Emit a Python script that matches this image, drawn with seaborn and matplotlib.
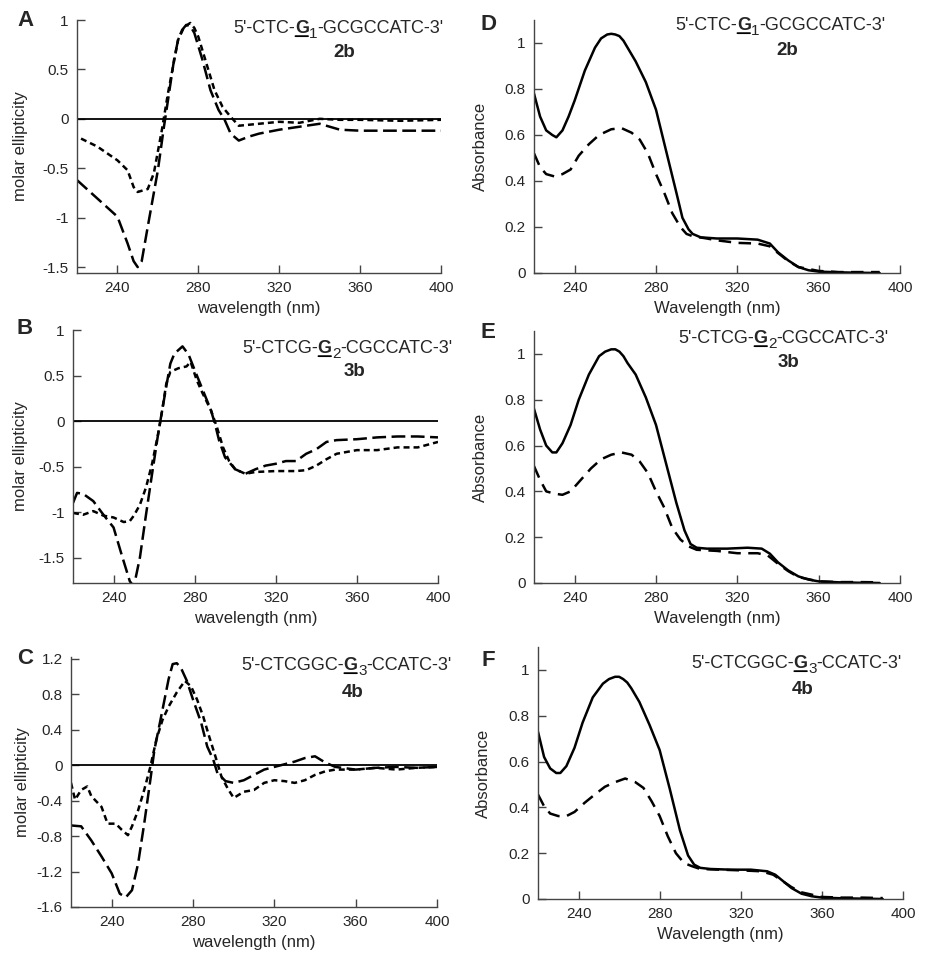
import numpy as np
import pandas as pd
import matplotlib
matplotlib.use("Agg")
import matplotlib.pyplot as plt
import seaborn as sns
from matplotlib.ticker import FuncFormatter

# --- CD spectra (molar ellipticity), long dash / short dash traces ---
nm_a_long = [220, 240, 245, 248, 250, 252, 255, 260, 263, 265, 268, 270, 272, 274, 276, 278, 282, 286, 290, 293, 296, 300, 305, 310, 320, 330, 340, 345, 350, 360, 380, 400]
cd_a_long = [-0.62, -0.99, -1.26, -1.44, -1.5, -1.44, -1.09, -0.52, -0.08, 0.19, 0.6, 0.8, 0.9, 0.95, 0.94, 0.87, 0.6, 0.29, 0.09, -0.01, -0.15, -0.22, -0.18, -0.15, -0.11, -0.08, -0.05, -0.08, -0.11, -0.12, -0.12, -0.12]
nm_a_short = [222, 230, 240, 245, 248, 250, 255, 258, 262, 265, 270, 273, 276, 278, 280, 284, 288, 292, 296, 300, 310, 320, 330, 340, 350, 360, 380, 400]
cd_a_short = [-0.2, -0.28, -0.42, -0.52, -0.69, -0.74, -0.71, -0.55, -0.11, 0.26, 0.8, 0.93, 0.97, 0.92, 0.83, 0.56, 0.29, 0.12, 0.02, -0.07, -0.05, -0.03, -0.04, 0.0, -0.01, -0.01, -0.02, -0.01]

nm_b_long = [220, 222, 225, 230, 235, 240, 244, 248, 250, 253, 256, 259, 262, 264, 266, 268, 270, 272, 274, 277, 280, 284, 288, 290, 292, 295, 300, 305, 310, 315, 320, 325, 330, 335, 340, 345, 350, 360, 370, 380, 390, 400]
cd_b_long = [-0.9, -0.79, -0.8, -0.88, -1.03, -1.17, -1.47, -1.76, -1.82, -1.5, -1.03, -0.58, -0.14, 0.12, 0.38, 0.63, 0.74, 0.78, 0.82, 0.73, 0.56, 0.34, 0.12, -0.03, -0.21, -0.4, -0.53, -0.58, -0.53, -0.49, -0.47, -0.44, -0.44, -0.36, -0.31, -0.23, -0.21, -0.2, -0.18, -0.17, -0.17, -0.18]
nm_b_short = [220, 225, 230, 235, 240, 245, 248, 250, 253, 256, 259, 262, 264, 266, 268, 272, 276, 278, 281, 284, 288, 291, 294, 297, 300, 305, 310, 320, 330, 335, 340, 345, 350, 360, 370, 380, 390, 400]
cd_b_short = [-1.01, -1.03, -0.99, -1.04, -1.06, -1.11, -1.1, -1.04, -0.92, -0.73, -0.47, -0.14, 0.12, 0.41, 0.54, 0.58, 0.6, 0.65, 0.45, 0.3, 0.12, -0.07, -0.29, -0.44, -0.53, -0.58, -0.56, -0.55, -0.55, -0.54, -0.49, -0.42, -0.36, -0.32, -0.32, -0.29, -0.29, -0.23]

nm_c_long = [220, 225, 230, 235, 240, 244, 247, 250, 253, 256, 259, 261, 264, 266, 268, 270, 272, 274, 277, 280, 284, 287, 290, 292, 296, 300, 305, 310, 315, 320, 325, 330, 335, 340, 345, 350, 360, 370, 380, 390, 400]
cd_c_long = [-0.68, -0.69, -0.85, -1.03, -1.22, -1.45, -1.49, -1.41, -1.11, -0.66, -0.17, 0.17, 0.51, 0.74, 0.97, 1.14, 1.15, 1.1, 0.95, 0.74, 0.48, 0.21, 0.06, -0.09, -0.18, -0.2, -0.17, -0.11, -0.05, -0.02, 0.01, 0.04, 0.08, 0.1, 0.03, -0.02, -0.05, -0.03, -0.02, -0.03, -0.02]
nm_c_short = [220, 222, 225, 228, 230, 235, 238, 242, 245, 248, 250, 253, 256, 259, 262, 265, 268, 272, 276, 279, 282, 285, 288, 291, 294, 297, 300, 305, 310, 315, 320, 325, 330, 335, 340, 345, 350, 360, 370, 380, 390, 400]
cd_c_short = [-0.2, -0.39, -0.28, -0.24, -0.35, -0.47, -0.66, -0.66, -0.73, -0.79, -0.69, -0.51, -0.28, -0.02, 0.29, 0.51, 0.66, 0.82, 0.95, 0.89, 0.74, 0.55, 0.32, 0.1, -0.13, -0.26, -0.37, -0.3, -0.28, -0.2, -0.17, -0.18, -0.2, -0.17, -0.11, -0.07, -0.05, -0.05, -0.03, -0.05, -0.03, -0.02]

# --- UV absorbance spectra, solid / dashed traces ---
nm_d_solid = [220, 223, 226, 229, 231, 234, 237, 240, 245, 250, 253, 256, 258, 260, 262, 264, 266, 270, 275, 280, 285, 290, 293, 296, 298, 302, 310, 320, 330, 336, 340, 345, 350, 355, 360, 370, 380, 390]
ab_d_solid = [0.78, 0.68, 0.62, 0.6, 0.59, 0.62, 0.68, 0.75, 0.88, 0.98, 1.02, 1.037, 1.04, 1.037, 1.03, 1.01, 0.98, 0.92, 0.83, 0.71, 0.53, 0.35, 0.24, 0.19, 0.17, 0.155, 0.15, 0.15, 0.145, 0.128, 0.09, 0.055, 0.026, 0.012, 0.006, 0.003, 0.001, 0.0]
nm_d_dash = [220, 223, 226, 230, 234, 238, 242, 247, 252, 258, 263, 268, 272, 276, 280, 284, 288, 292, 295, 298, 305, 310, 320, 330, 336, 340, 345, 350, 360, 370, 380, 390]
ab_d_dash = [0.52, 0.46, 0.43, 0.42, 0.43, 0.45, 0.51, 0.56, 0.6, 0.625, 0.63, 0.61, 0.58, 0.52, 0.43, 0.35, 0.26, 0.2, 0.17, 0.16, 0.15, 0.142, 0.131, 0.128, 0.116, 0.087, 0.052, 0.026, 0.009, 0.004, 0.004, 0.004]

nm_e_solid = [220, 223, 226, 229, 231, 234, 238, 242, 247, 252, 255, 258, 260, 262, 264, 266, 270, 275, 280, 285, 290, 294, 297, 300, 305, 315, 325, 332, 336, 340, 345, 350, 355, 360, 370, 380, 390]
ab_e_solid = [0.76, 0.67, 0.6, 0.57, 0.57, 0.61, 0.69, 0.8, 0.91, 0.99, 1.01, 1.02, 1.02, 1.01, 0.99, 0.96, 0.91, 0.81, 0.69, 0.52, 0.35, 0.23, 0.17, 0.154, 0.15, 0.15, 0.154, 0.15, 0.128, 0.09, 0.055, 0.029, 0.015, 0.007, 0.003, 0.001, 0.0]
nm_e_dash = [220, 223, 226, 230, 234, 238, 243, 248, 253, 258, 263, 268, 272, 276, 280, 284, 288, 292, 296, 300, 310, 320, 330, 335, 340, 345, 350, 360, 370, 380, 390]
ab_e_dash = [0.51, 0.45, 0.4, 0.39, 0.385, 0.4, 0.45, 0.5, 0.54, 0.56, 0.57, 0.56, 0.53, 0.48, 0.4, 0.33, 0.24, 0.19, 0.16, 0.145, 0.14, 0.13, 0.13, 0.12, 0.084, 0.052, 0.026, 0.007, 0.004, 0.004, 0.003]

nm_f_solid = [220, 223, 226, 229, 231, 234, 238, 242, 247, 252, 255, 258, 260, 262, 264, 266, 270, 275, 280, 285, 290, 294, 297, 300, 305, 315, 325, 333, 337, 341, 345, 350, 355, 360, 370, 380, 390]
ab_f_solid = [0.73, 0.62, 0.57, 0.55, 0.55, 0.58, 0.66, 0.77, 0.88, 0.94, 0.96, 0.97, 0.97, 0.96, 0.945, 0.92, 0.86, 0.76, 0.65, 0.48, 0.3, 0.19, 0.15, 0.136, 0.131, 0.128, 0.128, 0.121, 0.106, 0.077, 0.048, 0.023, 0.012, 0.006, 0.003, 0.0015, 0.0]
nm_f_dash = [220, 223, 226, 230, 234, 238, 243, 248, 253, 258, 263, 268, 272, 276, 280, 284, 288, 292, 296, 300, 310, 320, 330, 336, 340, 345, 350, 360, 370, 380, 390]
ab_f_dash = [0.456, 0.405, 0.373, 0.362, 0.362, 0.38, 0.42, 0.456, 0.49, 0.51, 0.526, 0.51, 0.485, 0.427, 0.362, 0.274, 0.2, 0.157, 0.143, 0.131, 0.128, 0.125, 0.121, 0.106, 0.082, 0.052, 0.029, 0.009, 0.006, 0.006, 0.004]

x_ticks = [240, 280, 320, 360, 400]
cd_ticks_ab = [-1.5, -1, -0.5, 0, 0.5, 1]
cd_ticks_c = [-1.6, -1.2, -0.8, -0.4, 0, 0.4, 0.8, 1.2]
abs_ticks = [0, 0.2, 0.4, 0.6, 0.8, 1]

seq_parts = [("5'-CTC-", "1", "-GCGCCATC-3'"),
             ("5'-CTCG-", "2", "-CGCCATC-3'"),
             ("5'-CTCGGC-", "3", "-CCATC-3'")]
compounds = ["2b", "3b", "4b"]

sns.set_style("ticks")
plt.rcParams["font.family"] = ["Liberation Sans", "DejaVu Sans"]
plt.rcParams["axes.unicode_minus"] = False

W, H = 939, 957
fig = plt.figure(figsize=(W / 100, H / 100), dpi=100)


def px_axes(l, t, r, b):
    return fig.add_axes([l / W, 1 - b / H, (r - l) / W, (b - t) / H])


def traces(pairs):
    frames = [pd.DataFrame({"nm": x, "val": y, "trace": name}) for name, x, y in pairs]
    return pd.concat(frames, ignore_index=True)


fmt = FuncFormatter(lambda v, p: "%g" % round(v, 2))


def style_axes(ax, ylim, yticks, xlabel, ylabel, ylab_x):
    ax.set_xlim(220, 400)
    ax.set_ylim(*ylim)
    ax.set_xticks(x_ticks)
    ax.set_yticks(yticks)
    ax.yaxis.set_major_formatter(fmt)
    ax.tick_params(direction="in", length=6, width=1, color="#444444",
                   labelsize=11, pad=6)
    for s in ["top", "right"]:
        ax.spines[s].set_visible(False)
    for s in ["left", "bottom"]:
        ax.spines[s].set_color("#444444")
        ax.spines[s].set_linewidth(1)
    ax.set_xlabel(xlabel, fontsize=12, labelpad=4)
    ax.set_ylabel(ylabel, fontsize=12)
    ax.yaxis.set_label_coords(ylab_x, 0.5)


def seq_label(ax, x, y, parts, comp, comp_x, comp_y):
    pre, sub, post = parts
    t0 = ax.annotate(pre, xy=(x / W, 1 - y / H), xycoords="figure fraction",
                     va="baseline", ha="left", fontsize=13)
    tg = ax.annotate("G", xy=(1, 0), xycoords=t0, va="bottom", ha="left",
                     fontsize=13, fontweight="bold")
    ts = ax.annotate(sub, xy=(1, 0), xycoords=tg, xytext=(0.3, -3),
                     textcoords="offset points", va="bottom", ha="left", fontsize=11)
    ax.annotate(post, xy=(1, 0), xycoords=(ts, tg), va="bottom", ha="left", fontsize=13)
    ax.annotate("", xy=(0.05, 0.05), xycoords=tg, xytext=(0.95, 0.05), textcoords=tg,
                arrowprops=dict(arrowstyle="-", lw=1.3, color="black",
                                shrinkA=0, shrinkB=0))
    ax.annotate(comp, xy=(comp_x / W, 1 - comp_y / H), xycoords="figure fraction",
                va="baseline", ha="center", fontsize=13.5, fontweight="bold")


cd_dashes = {"long": (5.5, 2.2), "short": (2.4, 1.6)}
abs_dashes = {"solid": "", "dash": (5, 3)}

# CD panels
cd_sets = [
    (("long", nm_a_long, cd_a_long), ("short", nm_a_short, cd_a_short)),
    (("long", nm_b_long, cd_b_long), ("short", nm_b_short, cd_b_short)),
    (("long", nm_c_long, cd_c_long), ("short", nm_c_short, cd_c_short)),
]
cd_boxes = [(77, 20, 441, 273), (73, 330, 438, 583), (71, 657, 437, 907)]
cd_ylims = [(-1.56, 1.0), (-1.78, 1.0), (-1.6, 1.22)]
cd_yticks = [cd_ticks_ab, cd_ticks_ab, cd_ticks_c]
cd_ylab = [-0.135, -0.123, -0.112]
cd_letters = [("A", 25, 21), ("B", 25, 329), ("C", 25, 658)]
cd_seq = [(233, 33, 344, 57), (242, 353, 355, 376), (241, 670, 353, 697)]

for i in range(3):
    ax = px_axes(*cd_boxes[i])
    ax.axhline(0, color="black", lw=1.3, zorder=1)
    sns.lineplot(data=traces(cd_sets[i]), x="nm", y="val", style="trace",
                 dashes=cd_dashes, color="black", lw=1.8, legend=False,
                 estimator=None, sort=False, ax=ax)
    style_axes(ax, cd_ylims[i], cd_yticks[i], "wavelength (nm)",
               "molar ellipticity", cd_ylab[i])
    sx, sy, cx, cy = cd_seq[i]
    seq_label(ax, sx, sy, seq_parts[i], compounds[i], cx, cy)
    lt, lx, ly = cd_letters[i]
    fig.text(lx / W, 1 - ly / H, lt, fontsize=16, fontweight="bold",
             ha="center", va="center")

# absorbance panels
abs_sets = [
    (("solid", nm_d_solid, ab_d_solid), ("dash", nm_d_dash, ab_d_dash)),
    (("solid", nm_e_solid, ab_e_solid), ("dash", nm_e_dash, ab_e_dash)),
    (("solid", nm_f_solid, ab_f_solid), ("dash", nm_f_dash, ab_f_dash)),
]
abs_boxes = [(534, 20, 900, 273), (534, 331, 900, 583), (538, 647, 903, 899)]
abs_ylab = [-0.126, -0.126, -0.13]
abs_letters = [("D", 489, 25), ("E", 488, 333), ("F", 488, 661)]
abs_seq = [(675, 30, 787, 55), (678, 343, 788, 367), (691, 668, 803, 694)]

for i in range(3):
    ax = px_axes(*abs_boxes[i])
    sns.lineplot(data=traces(abs_sets[i]), x="nm", y="val", style="trace",
                 dashes=abs_dashes, color="black", lw=1.8, legend=False,
                 estimator=None, sort=False, ax=ax)
    style_axes(ax, (0, 1.1), abs_ticks, "Wavelength (nm)", "Absorbance", abs_ylab[i])
    sx, sy, cx, cy = abs_seq[i]
    seq_label(ax, sx, sy, seq_parts[i], compounds[i], cx, cy)
    lt, lx, ly = abs_letters[i]
    fig.text(lx / W, 1 - ly / H, lt, fontsize=16, fontweight="bold",
             ha="center", va="center")

fig.savefig("out.png", dpi=100)
